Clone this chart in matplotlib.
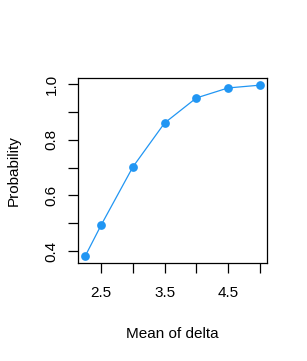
import matplotlib
matplotlib.use('Agg')
import matplotlib.pyplot as plt

plt.rcParams['font.family'] = ['Liberation Sans', 'DejaVu Sans']

# values
mean_delta = [2.25, 2.5, 3.0, 3.5, 4.0, 4.5, 5.0]
probability = [0.382, 0.493, 0.702, 0.860, 0.950, 0.986, 0.996]
x_ticks = [2.5, 3.0, 3.5, 4.0, 4.5, 5.0]
x_labels = ['2.5', '', '3.5', '', '4.5', '']
y_ticks = [0.4, 0.5, 0.6, 0.7, 0.8, 0.9, 1.0]
y_labels = ['0.4', '', '0.6', '', '0.8', '', '1.0']

color = '#2196F3'

fig = plt.figure(figsize=(3.07, 3.61), dpi=100)
ax = fig.add_axes([0.255, 0.272, 0.614, 0.511])

ax.plot(mean_delta, probability, color=color, lw=0.9, marker='o',
        markersize=6.3, markeredgewidth=0)

# R-style 4% padding
xr = max(mean_delta) - min(mean_delta)
yr = max(probability) - min(probability)
ax.set_xlim(min(mean_delta) - 0.04 * xr, max(mean_delta) + 0.04 * xr)
ax.set_ylim(min(probability) - 0.04 * yr, max(probability) + 0.04 * yr)

ax.set_xticks(x_ticks)
ax.set_xticklabels(x_labels)
ax.set_yticks(y_ticks)
ax.set_yticklabels(y_labels, rotation=90, va='center')

ax.tick_params(axis='both', direction='out', length=7, width=0.9,
               labelsize=11, color='black')
ax.tick_params(axis='x', pad=10)
ax.tick_params(axis='y', pad=7)
for s in ax.spines.values():
    s.set_linewidth(0.9)

ax.set_xlabel('Mean of delta', fontsize=11, labelpad=19)
ax.set_ylabel('Probability', fontsize=11, labelpad=17)

fig.savefig('out.png', dpi=100)
